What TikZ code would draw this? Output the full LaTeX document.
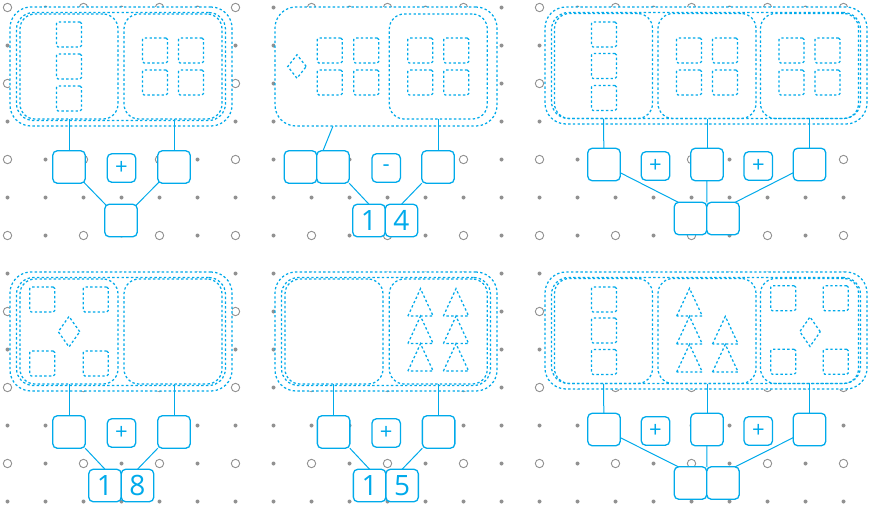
\documentclass[tikz,border=0pt]{standalone}
\usepackage{fontspec}
\setsansfont{Open Sans}
\usetikzlibrary{positioning, shapes.geometric}

\definecolor{setcyan}{RGB}{0,170,235}
\definecolor{gridgray}{RGB}{145,145,145}

\pgfdeclarelayer{grid}
\pgfdeclarelayer{sets}
\pgfdeclarelayer{wires}
\pgfsetlayers{grid,sets,wires,main}

\begin{document}
\begin{tikzpicture}[
    x=1pt, y=-1pt,
    every node/.style={font=\sffamily},
    dotline/.style={draw=setcyan, line width=1.25pt, dash pattern=on 2.4pt off 2.3pt},
    set/.style={dotline, fill=white, rounded corners=21pt, inner sep=0pt, outer sep=0pt},
    setin/.style={dotline, rounded corners=17pt, inner sep=0pt, outer sep=0pt},
    part/.style={dotline, rounded corners=15pt, inner sep=0pt, outer sep=0pt, minimum width=98pt, minimum height=105pt},
    tile/.style={dotline, rounded corners=1.5pt, inner sep=0pt, minimum size=25pt},
    gem/.style={dotline, diamond, inner sep=0pt},
    box/.style={draw=setcyan, line width=1.3pt, fill=white, rounded corners=4.5pt, inner sep=0pt, outer sep=0pt,
                minimum size=32.5pt, text=setcyan, font=\sffamily\fontsize{28}{28}\selectfont},
    op/.style={box, minimum size=28.5pt, font=\sffamily\fontsize{22}{22}\selectfont},
    wire/.style={draw=setcyan, line width=1pt},
    gridring/.style={draw=gridgray, line width=0.9pt, fill=white},
]

% ── Panel A: 3 + 4 ──────────────────────────────────────────────────────────
\begin{pgfonlayer}{sets}
\node[set, minimum width=222pt, minimum height=119pt] (bigA) at (121,66.5) {};
\node[setin, minimum width=209pt, minimum height=108pt] (bigAin) at (bigA) {};
\node[part] (lA) at (69,66.5) {};
\node[part] (rA) at (173,66.5) {};
\foreach \y [count=\k] in {34.5,66.5,98.5}
    \node[tile] (lA\k) at (69,\y) {};
\node[tile] (rA1) at (155,50.5) {};
\node[tile] (rA2) at (191,50.5) {};
\node[tile] (rA3) at (155,82.5) {};
\node[tile] (rA4) at (191,82.5) {};
\end{pgfonlayer}
\node[box] (inA1) at (69,167) {};
\node[op]  (opA)  at (121.5,168) {+};
\node[box] (inA2) at (174,167) {};
\node[box] (outA) at (121,220.5) {};

% ── Panel B: 14 - 4 ─────────────────────────────────────────────────────────
\begin{pgfonlayer}{sets}
\node[set, minimum width=222pt, minimum height=119pt] (bigB) at (386,66.5) {};
\node[part] (rB) at (438.3,66.5) {};
\node[gem, minimum width=19pt, minimum height=24pt] (gemB) at (297,66.5) {};
\node[tile] (lB1) at (329.7,50.5) {};
\node[tile] (lB2) at (366.3,50.5) {};
\node[tile] (lB3) at (329.7,82.5) {};
\node[tile] (lB4) at (366.3,82.5) {};
\node[tile] (rB1) at (420.3,50.5) {};
\node[tile] (rB2) at (456.3,50.5) {};
\node[tile] (rB3) at (420.3,82.5) {};
\node[tile] (rB4) at (456.3,82.5) {};
\end{pgfonlayer}
\node[box] (tB1) at (300.5,167) {};
\node[box, right=0pt of tB1] (tB2) {};
\node[op]  (opB) at (386.2,168) {-};
\node[box] (inB) at (438,167) {};
\node[box] (outB1) at (369,220.5) {1};
\node[box, right=0pt of outB1] (outB2) {4};

% ── Panel C: 3 + 4 + 4 ──────────────────────────────────────────────────────
\begin{pgfonlayer}{sets}
\node[set, minimum width=322pt, minimum height=117pt] (bigC) at (706,65.5) {};
\node[setin, minimum width=309pt, minimum height=106pt] (bigCin) at (bigC) {};
\node[part] (lC) at (603.5,66) {};
\node[part] (mC) at (707,66) {};
\node[part] (rC) at (809.5,66) {};
\foreach \y [count=\k] in {34.5,66,98}
    \node[tile] (lC\k) at (604,\y) {};
\node[tile] (mC1) at (689,50.5) {};
\node[tile] (mC2) at (725,50.5) {};
\node[tile] (mC3) at (689,82.5) {};
\node[tile] (mC4) at (725,82.5) {};
\node[tile] (rC1) at (791.5,50.5) {};
\node[tile] (rC2) at (827.5,50.5) {};
\node[tile] (rC3) at (791.5,82.5) {};
\node[tile] (rC4) at (827.5,82.5) {};
\end{pgfonlayer}
\node[box] (inC1) at (604,164.5) {};
\node[op]  (opC1) at (655.5,166) {+};
\node[box] (inC2) at (707,164.5) {};
\node[op]  (opC2) at (758.3,166) {+};
\node[box] (inC3) at (809.5,164.5) {};
\node[box] (outC1) at (690.5,218.5) {};
\node[box, right=0pt of outC1] (outC2) {};

% ── Panel D: 10 + 8 ─────────────────────────────────────────────────────────
\begin{pgfonlayer}{sets}
\node[set, minimum width=222pt, minimum height=119pt] (bigD) at (121,331.5) {};
\node[setin, minimum width=209pt, minimum height=108pt] (bigDin) at (bigD) {};
\node[part] (lD) at (69,331.5) {};
\node[part] (rD) at (173,331.5) {};
\node[tile] (lD1) at (42.3,299.5) {};
\node[tile] (lD2) at (95.7,299.5) {};
\node[tile] (lD3) at (42.3,363.5) {};
\node[tile] (lD4) at (95.7,363.5) {};
\node[gem, minimum width=22pt, minimum height=31pt] (gemD) at (69,331.7) {};
\end{pgfonlayer}
\node[box] (inD1) at (69,432) {};
\node[op]  (opD)  at (121.5,433) {+};
\node[box] (inD2) at (174,432) {};
\node[box] (outD1) at (105,485.5) {1};
\node[box, right=0pt of outD1] (outD2) {8};

% ── Panel E: 0 + 15 ─────────────────────────────────────────────────────────
\begin{pgfonlayer}{sets}
\node[set, minimum width=222pt, minimum height=119pt] (bigE) at (386,331.5) {};
\node[setin, minimum width=209pt, minimum height=108pt] (bigEin) at (bigE) {};
\node[part] (lE) at (334,331.5) {};
\node[part] (rE) at (438.3,331.5) {};
\foreach \x in {420.5,456}
    \foreach \b in {316,343.5,371}
        \draw[dotline] (\x-12.6,\b) -- ++(12.6,-27.3) -- ++(12.6,27.3) -- cycle;
\end{pgfonlayer}
\node[box] (inE1) at (333.6,432) {};
\node[op]  (opE)  at (386.2,433) {+};
\node[box] (inE2) at (438.6,432) {};
\node[box] (outE1) at (369.6,485.5) {1};
\node[box, right=0pt of outE1] (outE2) {5};

% ── Panel F: 3 + 15 + 10 ────────────────────────────────────────────────────
\begin{pgfonlayer}{sets}
\node[set, minimum width=322pt, minimum height=117pt] (bigF) at (706,330.5) {};
\node[setin, minimum width=309pt, minimum height=106pt] (bigFin) at (bigF) {};
\node[part] (lF) at (603.5,331) {};
\node[part] (mF) at (707,331) {};
\node[part] (rF) at (809.5,331) {};
\foreach \y [count=\k] in {299.5,330.5,362}
    \node[tile] (lF\k) at (604,\y) {};
\foreach \b in {316,344,372}
    \draw[dotline] (689.5-12.8,\b) -- ++(12.8,-27.6) -- ++(12.8,27.6) -- cycle;
\foreach \b in {344,372}
    \draw[dotline] (725.3-12.8,\b) -- ++(12.8,-27.6) -- ++(12.8,27.6) -- cycle;
\node[tile] (rF1) at (783.2,298.2) {};
\node[tile] (rF2) at (835.8,298.2) {};
\node[tile] (rF3) at (783.2,361.8) {};
\node[tile] (rF4) at (835.8,361.8) {};
\node[gem, minimum width=21pt, minimum height=30pt] (gemF) at (810,331.7) {};
\end{pgfonlayer}
\node[box] (inF1) at (604,429.5) {};
\node[op]  (opF1) at (655.5,431) {+};
\node[box] (inF2) at (707,429.5) {};
\node[op]  (opF2) at (758.3,431) {+};
\node[box] (inF3) at (809.5,429.5) {};
\node[box] (outF1) at (690.5,483) {};
\node[box, right=0pt of outF1] (outF2) {};

% ── Connectors ──────────────────────────────────────────────────────────────
\begin{pgfonlayer}{wires}
\draw[wire] (lA.south) -- (inA1.center);
\draw[wire] (inA2 |- rA.south) -- (inA2.center);
\draw[wire] (inA1.center) -- (outA.center);
\draw[wire] (inA2.center) -- (outA.center);

\draw[wire] ([xshift=-53pt]bigB.south) -- ([xshift=-10pt]tB2.north);
\draw[wire] (inB |- rB.south) -- (inB.center);
\draw[wire] (tB2.south east) -- (outB1.north);
\draw[wire] (inB.south west) -- (outB2.north);

\draw[wire] (lC.south) -- (inC1.center);
\draw[wire] (mC.south) -- (inC2.center);
\draw[wire] (rC.south) -- (inC3.center);
\draw[wire] (inC1.center) -- ([xshift=4pt]outC1.north west);
\draw[wire] (inC2.center) -- (outC1.north east);
\draw[wire] (inC3.center) -- ([xshift=-4pt]outC2.north east);

\draw[wire] (lD.south) -- (inD1.center);
\draw[wire] (inD2 |- rD.south) -- (inD2.center);
\draw[wire] (inD1.south east) -- (outD1.north);
\draw[wire] (inD2.south west) -- (outD2.north);

\draw[wire] (inE1 |- lE.south) -- (inE1.center);
\draw[wire] (inE2 |- rE.south) -- (inE2.center);
\draw[wire] (inE1.south east) -- (outE1.north);
\draw[wire] (inE2.south west) -- (outE2.north);

\draw[wire] (lF.south) -- (inF1.center);
\draw[wire] (mF.south) -- (inF2.center);
\draw[wire] (rF.south) -- (inF3.center);
\draw[wire] (inF1.center) -- ([xshift=4pt]outF1.north west);
\draw[wire] (inF2.center) -- (outF1.north east);
\draw[wire] (inF3.center) -- ([xshift=-4pt]outF2.north east);
\end{pgfonlayer}

% ── Dot grid ────────────────────────────────────────────────────────────────
\begin{pgfonlayer}{grid}
\fill[white] (0,0) rectangle (870,504);
\foreach \i in {0,...,22}
    \foreach \j in {0,...,13} {
        \pgfmathtruncatemacro{\odd}{mod(\i,2)+mod(\j,2)}
        \ifnum\odd=0
            \draw[gridring] ({7.5+38*\i},{7.5+38*\j}) circle (4.2pt);
        \else
            \fill[gridgray] ({7.5+38*\i},{7.5+38*\j}) circle (2pt);
        \fi
    }
\end{pgfonlayer}
\useasboundingbox (0,0) rectangle (870,504);

\end{tikzpicture}
\end{document}
